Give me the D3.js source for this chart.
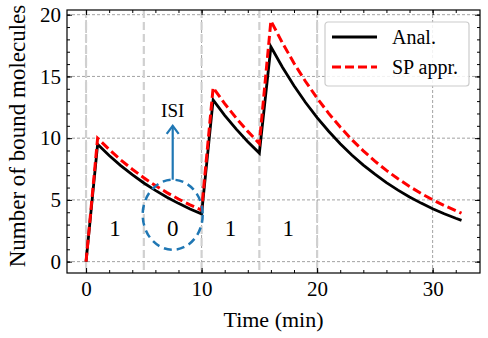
<!DOCTYPE html>
<html>
<head>
<meta charset="utf-8">
<script src="https://cdn.jsdelivr.net/npm/d3@7"></script>
<style>
  body { margin: 0; background: #fff; }
  svg { display: block; font-family: "Liberation Serif", "DejaVu Serif", serif; }
</style>
</head>
<body>
<div id="chart"></div>
<script>
// time (min) and number of bound molecules
var time = [0, 1, 2, 3, 4, 5, 6, 7, 8, 9, 10, 11, 12, 13, 14, 15, 16, 17, 18, 19, 20,
            21, 22, 23, 24, 25, 26, 27, 28, 29, 30, 31, 32, 32.5];
var anal = [0, 9.5, 8.6, 7.78, 7.04, 6.37, 5.77, 5.22, 4.72, 4.27, 3.87, 13.1, 11.85, 10.73, 9.71, 8.79,
            17.4, 15.74, 14.25, 12.89, 11.66, 10.56, 9.55, 8.64, 7.82, 7.08, 6.4, 5.79, 5.24, 4.74, 4.29,
            3.88, 3.51, 3.34];
var spAppr = [0, 10.0, 9.08, 8.24, 7.48, 6.79, 6.16, 5.59, 5.07, 4.6, 4.18, 14.1, 12.8, 11.62, 10.55, 9.57,
              19.5, 17.71, 16.07, 14.59, 13.24, 12.01, 10.9, 9.89, 8.97, 8.14, 7.39, 6.71, 6.09, 5.52, 5.01,
              4.55, 4.13, 3.92];

// stimulus window boundaries and per-window labels
var windowEdges = [0, 5, 10, 15, 20];
var windowLabelX = [2.5, 7.5, 12.5, 17.5];
var windowLabels = ["1", "0", "1", "1"];

var xMajor = [0, 10, 20, 30];
var xMinor = d3.range(0, 34, 2);
var yMajor = [0, 5, 10, 15, 20];
var yMinor = d3.range(0, 21, 1);

var W = 488, H = 338;
var margin = {top: 10, right: 8, bottom: 65, left: 67};
var width = W - margin.left - margin.right,
    height = H - margin.top - margin.bottom;

var svg = d3.select("#chart").append("svg")
    .attr("width", W)
    .attr("height", H);

var g = svg.append("g")
    .attr("transform", "translate(" + margin.left + "," + margin.top + ")");

var x = d3.scaleLinear().domain([-1.65, 34.1]).range([0, width]);
var y = d3.scaleLinear().domain([-0.92, 20.38]).range([height, 0]);

// grid
g.append("g").selectAll("line")
    .data(xMajor).enter().append("line")
    .attr("x1", d => x(d)).attr("x2", d => x(d))
    .attr("y1", 0).attr("y2", height)
    .attr("stroke", "#8a8a8a").attr("stroke-width", 0.8)
    .attr("stroke-dasharray", "3,2");
g.append("g").selectAll("line")
    .data(yMajor).enter().append("line")
    .attr("x1", 0).attr("x2", width)
    .attr("y1", d => y(d)).attr("y2", d => y(d))
    .attr("stroke", "#8a8a8a").attr("stroke-width", 0.8)
    .attr("stroke-dasharray", "3,2");

// window boundaries
g.append("g").selectAll("line")
    .data(windowEdges).enter().append("line")
    .attr("x1", d => x(d)).attr("x2", d => x(d))
    .attr("y1", 0).attr("y2", height)
    .attr("stroke", "#d0d0d0").attr("stroke-width", 2.2)
    .attr("stroke-dasharray", "8,4");

// window labels
g.append("g").selectAll("text")
    .data(windowLabels).enter().append("text")
    .attr("x", (d, i) => x(windowLabelX[i]))
    .attr("y", y(2.05))
    .attr("text-anchor", "middle")
    .style("font-size", "23px")
    .text(d => d);

// curves
var line = d3.line()
    .x((d, i) => x(time[i]))
    .y(d => y(d));

g.append("path")
    .datum(anal)
    .attr("fill", "none")
    .attr("stroke", "black")
    .attr("stroke-width", 2.8)
    .attr("d", line);

g.append("path")
    .datum(spAppr)
    .attr("fill", "none")
    .attr("stroke", "#ff0000")
    .attr("stroke-width", 3)
    .attr("stroke-dasharray", "9,4")
    .attr("d", line);

// ISI annotation
var cx = x(7.5), cy = y(3.8);
g.append("ellipse")
    .attr("cx", cx).attr("cy", cy)
    .attr("rx", 30).attr("ry", 35)
    .attr("fill", "none")
    .attr("stroke", "#1f77b4")
    .attr("stroke-width", 2.5)
    .attr("stroke-dasharray", "8,5");

var tipY = y(11.0);
g.append("line")
    .attr("x1", cx).attr("x2", cx)
    .attr("y1", cy - 35).attr("y2", tipY)
    .attr("stroke", "#1f77b4").attr("stroke-width", 2.2);
g.append("path")
    .attr("d", "M" + (cx - 6) + "," + (tipY + 8) + "L" + cx + "," + tipY + "L" + (cx + 6) + "," + (tipY + 8))
    .attr("fill", "none")
    .attr("stroke", "#1f77b4").attr("stroke-width", 2.2);
g.append("text")
    .attr("x", cx).attr("y", tipY - 9)
    .attr("text-anchor", "middle")
    .style("font-size", "19px")
    .text("ISI");

// axes, ticks pointing inward on all four sides
function styleAxis(sel) {
    sel.select(".domain").remove();
    sel.selectAll(".tick line").attr("stroke", "#000").attr("stroke-width", 1);
    sel.selectAll("text").style("font-size", "21px").attr("fill", "#000")
        .style("font-family", "'Liberation Serif', serif");
}

g.append("g")
    .attr("transform", "translate(0," + height + ")")
    .call(d3.axisBottom(x).tickValues(xMajor).tickSizeInner(-5).tickSizeOuter(0).tickPadding(8))
    .call(styleAxis);
g.append("g")
    .attr("transform", "translate(0," + height + ")")
    .call(d3.axisBottom(x).tickValues(xMinor).tickSizeInner(-3).tickSizeOuter(0).tickFormat(""))
    .call(styleAxis);
g.append("g")
    .call(d3.axisTop(x).tickValues(xMajor).tickSizeInner(-5).tickSizeOuter(0).tickFormat(""))
    .call(styleAxis);
g.append("g")
    .call(d3.axisTop(x).tickValues(xMinor).tickSizeInner(-3).tickSizeOuter(0).tickFormat(""))
    .call(styleAxis);

g.append("g")
    .call(d3.axisLeft(y).tickValues(yMajor).tickSizeInner(-5).tickSizeOuter(0).tickPadding(6))
    .call(styleAxis);
g.append("g")
    .call(d3.axisLeft(y).tickValues(yMinor).tickSizeInner(-3).tickSizeOuter(0).tickFormat(""))
    .call(styleAxis);
g.append("g")
    .attr("transform", "translate(" + width + ",0)")
    .call(d3.axisRight(y).tickValues(yMajor).tickSizeInner(-5).tickSizeOuter(0).tickFormat(""))
    .call(styleAxis);
g.append("g")
    .attr("transform", "translate(" + width + ",0)")
    .call(d3.axisRight(y).tickValues(yMinor).tickSizeInner(-3).tickSizeOuter(0).tickFormat(""))
    .call(styleAxis);

// frame
g.append("rect")
    .attr("width", width).attr("height", height)
    .attr("fill", "none").attr("stroke", "#000").attr("stroke-width", 1.2);

// axis labels
g.append("text")
    .attr("x", width / 2)
    .attr("y", height + 54)
    .attr("text-anchor", "middle")
    .style("font-size", "22px")
    .text("Time (min)");

g.append("text")
    .attr("transform", "rotate(-90)")
    .attr("x", -(136 - margin.top))
    .attr("y", 25 - margin.left)
    .attr("text-anchor", "middle")
    .style("font-size", "23px")
    .text("Number of bound molecules");

// legend
var leg = g.append("g").attr("transform", "translate(" + (325 - margin.left) + "," + (22 - margin.top) + ")");
leg.append("rect")
    .attr("width", 144).attr("height", 64)
    .attr("rx", 3)
    .attr("fill", "white").attr("fill-opacity", 0.85)
    .attr("stroke", "#cccccc").attr("stroke-width", 1.2);
var legItems = [
    {label: "Anal.", color: "black", dash: null, w: 2.8},
    {label: "SP appr.", color: "#ff0000", dash: "9,4", w: 3}
];
legItems.forEach(function(d, i) {
    var yy = 15 + i * 30;
    leg.append("line")
        .attr("x1", 7).attr("x2", 52)
        .attr("y1", yy).attr("y2", yy)
        .attr("stroke", d.color).attr("stroke-width", d.w)
        .attr("stroke-dasharray", d.dash);
    leg.append("text")
        .attr("x", 67).attr("y", yy + 7)
        .style("font-size", "20px")
        .text(d.label);
});
</script>
</body>
</html>
